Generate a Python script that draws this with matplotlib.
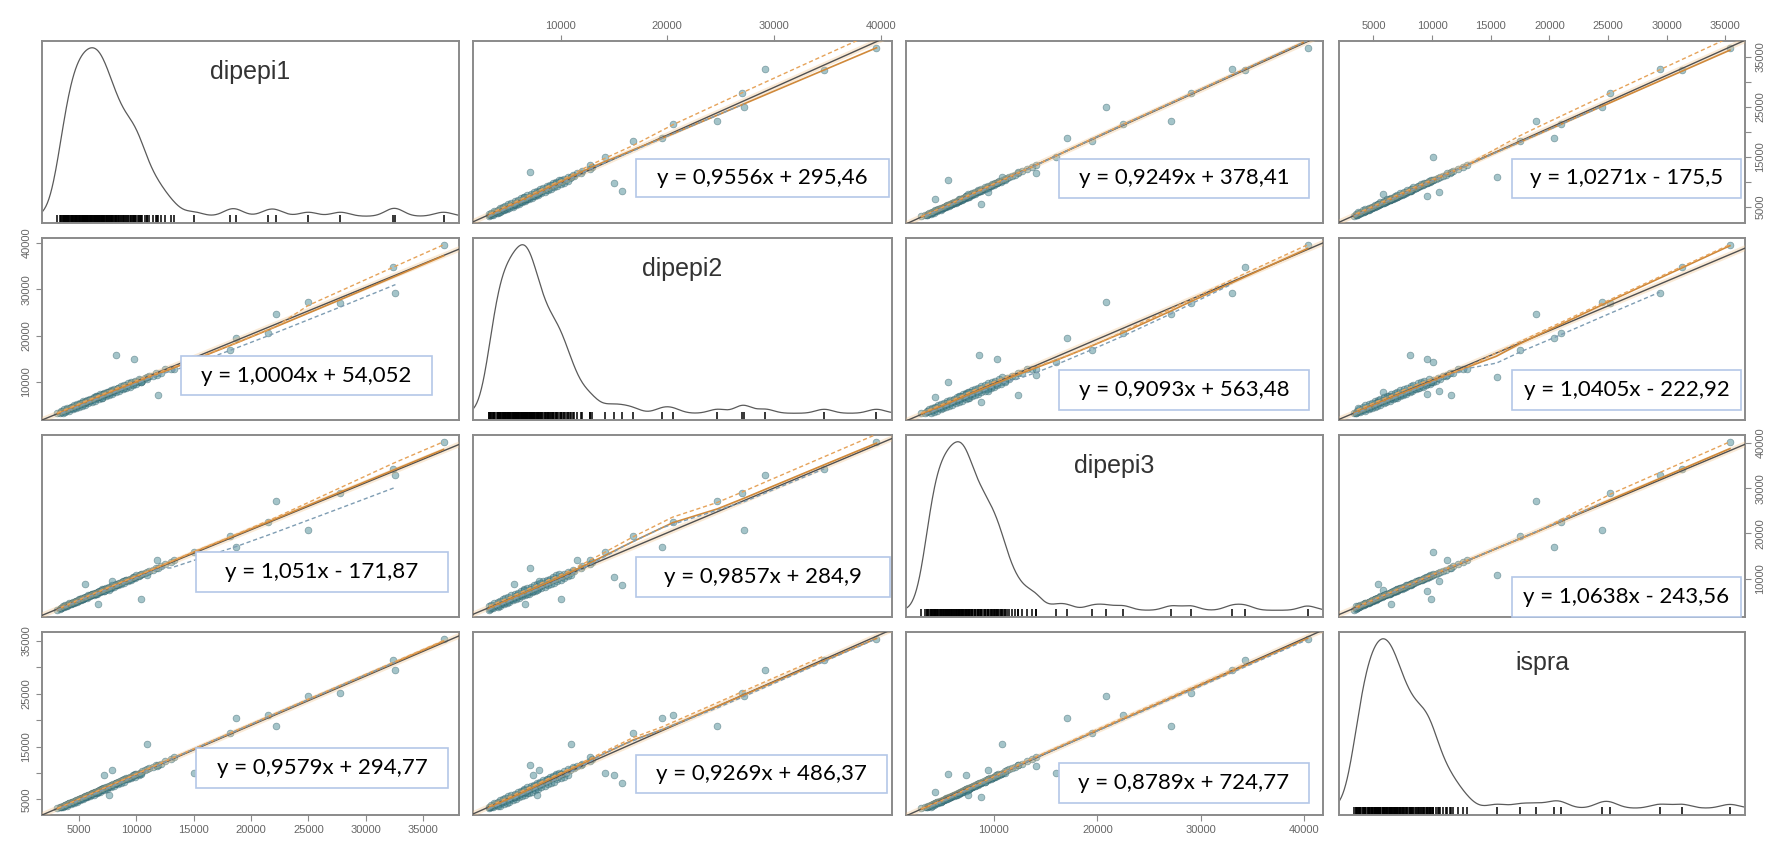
import numpy as np
import matplotlib
matplotlib.use("Agg")
import matplotlib.pyplot as plt
from matplotlib.patches import Rectangle

# scatterplot matrix: dipepi1, dipepi2, dipepi3, ispra

names = ["dipepi1", "dipepi2", "dipepi3", "ispra"]

dipepi1 = [
    3100, 3300, 3450, 3600, 3750, 3850, 3950, 4050, 4150, 4250,
    4350, 4400, 4500, 4600, 4650, 4750, 4850, 4900, 5000, 5100,
    5150, 5250, 5300, 5400, 5450, 5550, 5600, 5700, 5750, 5850,
    5900, 6000, 6050, 6150, 6200, 6300, 6350, 6450, 6500, 6600,
    6650, 6750, 6800, 6900, 7000, 7100, 7200, 7300, 7400, 7500,
    7650, 7800, 7950, 8100, 8250, 8400, 8550, 8700, 8900, 9100,
    9300, 9500, 9700, 9900, 10100, 10300, 10500, 10700, 10900, 11100,
    11400, 11700, 12100, 12500, 13000,
    3400, 3550, 3700, 3800, 3950, 4100, 4300, 4450, 4550, 4700,
    4800, 4950, 5050, 5200, 5350, 5500, 5650, 5800, 5950, 6100,
    6250, 6400, 6550, 6700, 6850, 7000, 7150, 7300, 7450, 7600,
    7750, 7900, 8050, 8200, 8350, 8500, 8650, 8800, 8950, 9100,
    9250, 9400, 9550, 9700, 9850, 10000, 10200, 10400, 6500, 7000,
    9800, 8200, 11900, 10350, 11750, 7900, 5500, 6600, 10900, 7200, 7600,
    36800, 32400, 32600, 27800, 25000, 22200, 21500, 18700, 18200, 15000, 13300]

dipepi2 = [
    3250, 3400, 3500, 3700, 3800, 4000, 3900, 4200, 4100, 4400,
    4300, 4600, 4450, 4750, 4650, 4900, 4800, 5100, 4950, 5300,
    5200, 5450, 5250, 5600, 5500, 5750, 5600, 5900, 5800, 6050,
    5950, 6200, 6100, 6350, 6250, 6500, 6400, 6650, 6550, 6800,
    6700, 6950, 6850, 7100, 7000, 7300, 7200, 7500, 7400, 7750,
    7650, 8000, 7900, 8300, 8200, 8650, 8500, 8950, 8800, 9300,
    9200, 9700, 9600, 10100, 10000, 10500, 10300, 10900, 10700, 11300,
    11200, 11900, 12000, 12800, 12900,
    3700, 3300, 4100, 3500, 4300, 3800, 4700, 4100, 5000, 4300,
    5200, 4600, 5500, 4800, 5800, 5100, 6100, 5400, 6400, 5700,
    6700, 6000, 7000, 6300, 7300, 6600, 7600, 6900, 7900, 7200,
    8200, 7500, 8500, 7800, 8800, 8100, 9100, 8400, 9400, 8700,
    9700, 9000, 10000, 9300, 10300, 9600, 10700, 9900, 6900, 6600,
    15000, 15800, 7100, 10000, 11500, 8000, 5600, 6700, 11000, 7400, 7800,
    39600, 34700, 29200, 27000, 27200, 24700, 20500, 19500, 16800, 14200, 12800]

dipepi3 = [
    3000, 3350, 3500, 3650, 3900, 3950, 4150, 4100, 4300, 4350,
    4500, 4550, 4700, 4800, 4900, 4950, 5100, 5150, 5250, 5400,
    5350, 5500, 5600, 5650, 5800, 5850, 5950, 6000, 6100, 6150,
    6300, 6350, 6400, 6500, 6600, 6650, 6700, 6800, 6900, 6950,
    7000, 7100, 7200, 7300, 7350, 7450, 7600, 7700, 7800, 7900,
    8000, 8200, 8350, 8500, 8700, 8850, 9000, 9200, 9400, 9600,
    9800, 10000, 10200, 10400, 10650, 10850, 11100, 11300, 11500, 11700,
    12000, 12300, 12700, 13200, 13700,
    3500, 3900, 3700, 4200, 4000, 4500, 4300, 4900, 4600, 5100,
    4900, 5400, 5200, 5700, 5500, 6000, 5800, 6300, 6100, 6600,
    6400, 6900, 6700, 7300, 7000, 7600, 7300, 7900, 7600, 8200,
    7900, 8500, 8200, 8800, 8500, 9100, 8800, 9400, 9100, 9700,
    9400, 10000, 9800, 10300, 10100, 10700, 10500, 11100, 6600, 7500,
    10300, 8600, 12300, 5600, 14100, 9400, 8800, 4300, 10800, 7300, 7500,
    40300, 34300, 33000, 29000, 20800, 27150, 22500, 17100, 19500, 16000, 14100]

ispra = [
    3350, 3500, 3600, 3800, 3900, 3950, 4100, 4200, 4250, 4300,
    4450, 4500, 4600, 4650, 4750, 4800, 4900, 4950, 5050, 5100,
    5200, 5250, 5300, 5400, 5500, 5550, 5600, 5700, 5800, 5850,
    5900, 6000, 6100, 6150, 6200, 6300, 6400, 6450, 6500, 6600,
    6700, 6750, 6850, 6900, 7000, 7100, 7200, 7250, 7400, 7450,
    7600, 7750, 7900, 8000, 8200, 8300, 8450, 8600, 8800, 9000,
    9150, 9350, 9550, 9750, 9900, 10100, 10300, 10500, 10700, 10900,
    11200, 11500, 11800, 12200, 12600,
    3600, 3500, 3800, 3900, 3700, 4300, 4100, 4600, 4300, 4900,
    4600, 5100, 4900, 5300, 5100, 5600, 5400, 5900, 5600, 6100,
    5900, 6400, 6200, 6700, 6500, 7000, 6800, 7300, 7000, 7500,
    7300, 7800, 7600, 8100, 7900, 8300, 8200, 8600, 8400, 8900,
    8800, 9200, 9100, 9500, 9300, 9800, 9700, 10100, 6300, 6800,
    9600, 8100, 11600, 9900, 11300, 10600, 5400, 6500, 15500, 9600, 5800,
    35400, 31300, 29400, 25200, 24500, 18900, 21000, 20400, 17500, 10100, 13000]

eq_labels = {
    (0, 1): "y = 0,9556x + 295,46", (0, 2): "y = 0,9249x + 378,41", (0, 3): "y = 1,0271x - 175,5",
    (1, 0): "y = 1,0004x + 54,052", (1, 2): "y = 0,9093x + 563,48", (1, 3): "y = 1,0405x - 222,92",
    (2, 0): "y = 1,051x - 171,87", (2, 1): "y = 0,9857x + 284,9", (2, 3): "y = 1,0638x - 243,56",
    (3, 0): "y = 0,9579x + 294,77", (3, 1): "y = 0,9269x + 486,37", (3, 2): "y = 0,8789x + 724,77",
}

data = [np.array(v, float) for v in (dipepi1, dipepi2, dipepi3, ispra)]

W, H = 1784, 847
COLS = [(42, 459), (473, 892), (906, 1323), (1339, 1745)]
ROWS = [(41, 223), (238, 420), (435, 617), (632, 815)]
# text boxes, pixel coords (x0, y0, x1, y1) from the top-left
BOX = {
    (0, 1): (636, 159, 889, 197), (0, 2): (1059, 159, 1309, 198), (0, 3): (1512, 159, 1741, 198),
    (1, 0): (181, 356, 432, 395), (1, 2): (1059, 370, 1309, 410), (1, 3): (1512, 370, 1741, 410),
    (2, 0): (196, 552, 448, 592), (2, 1): (636, 557, 890, 597), (2, 3): (1512, 577, 1741, 617),
    (3, 0): (196, 748, 448, 788), (3, 1): (636, 755, 887, 793), (3, 2): (1059, 763, 1309, 803),
}

GRAY = "#8a8a8a"
TICKC = "#666666"


def lowess(x, y, frac=0.5, iters=2):
    o = np.argsort(x)
    x, y = x[o], y[o]
    n = len(x)
    r = max(int(np.ceil(frac * n)), 3)
    fit = np.zeros(n)
    rob = np.ones(n)
    for _ in range(iters + 1):
        for i in range(n):
            d = np.abs(x - x[i])
            h = max(np.sort(d)[r - 1], 1e-9)
            w = (1 - np.clip(d / h, 0, 1) ** 3) ** 3 * rob
            sw = w.sum()
            xm = (w * x).sum() / sw
            ym = (w * y).sum() / sw
            sxx = (w * (x - xm) ** 2).sum()
            b = (w * (x - xm) * (y - ym)).sum() / sxx if sxx > 0 else 0.0
            fit[i] = ym + b * (x[i] - xm)
        res = y - fit
        s = np.median(np.abs(res)) + 1e-9
        u = np.clip(res / (6 * s), -1, 1)
        rob = (1 - u ** 2) ** 2
    return x, fit


def lims(v):
    lo, hi = v.min(), v.max()
    p = 0.04 * (hi - lo)
    return lo - p, hi + p


def kde(v, grid, bw):
    z = (grid[:, None] - v[None, :]) / bw
    return np.exp(-0.5 * z ** 2).sum(axis=1) / (len(v) * bw * np.sqrt(2 * np.pi))


plt.rcParams["font.family"] = ["Liberation Sans", "DejaVu Sans"]
fig = plt.figure(figsize=(W / 100, H / 100), dpi=100)

for i in range(4):
    for j in range(4):
        x0, x1 = COLS[j]
        y0, y1 = ROWS[i]
        ax = fig.add_axes([x0 / W, 1 - y1 / H, (x1 - x0) / W, (y1 - y0) / H])
        for s in ax.spines.values():
            s.set_color(GRAY)
            s.set_linewidth(1.4)
        ax.set_xticks([])
        ax.set_yticks([])
        xv = data[j]
        ax.set_xlim(*lims(xv))
        if i == j:
            g = np.linspace(xv.min() - 3000, xv.max() + 3000, 600)
            dens = kde(xv, g, 800)
            ax.plot(g, dens, color="#5a5a5a", lw=0.9)
            top = dens.max()
            ax.set_ylim(-0.04 * top, top * 1.04)
            ax.vlines(xv, 0, 0.045, transform=ax.get_xaxis_transform(), color="black", lw=1.1)
            ax.text(0.5, 0.83, names[i], transform=ax.transAxes, ha="center", va="center",
                    fontsize=18, color="#333333")
        else:
            yv = data[i]
            ax.set_ylim(*lims(yv))
            ax.scatter(xv, yv, s=24, facecolor="#4a8a95", edgecolor="#2d5a62", lw=0.5, alpha=0.5, zorder=2)
            xl = np.array(ax.get_xlim())
            b, a = np.polyfit(xv, yv, 1)
            ax.plot(xl, a + b * xl, color="#f2c38a", lw=4, alpha=0.35, zorder=3)
            ax.plot(xl, a + b * xl, color="#505050", lw=1.0, zorder=4)
            sx, sf = lowess(xv, yv)
            ax.plot(sx, sf, color="#d0893a", lw=1.2, zorder=4)
            res = yv - np.interp(xv, sx, sf)
            pos = res > 0
            ux, uf = lowess(xv[pos], res[pos] ** 2)
            lx, lf = lowess(xv[~pos], res[~pos] ** 2)
            ax.plot(ux, np.interp(ux, sx, sf) + np.sqrt(np.clip(uf, 0, None)),
                    color="#e6a35a", lw=1.0, ls=(0, (3, 2)), zorder=4)
            ax.plot(lx, np.interp(lx, sx, sf) - np.sqrt(np.clip(lf, 0, None)),
                    color="#7f9db3", lw=1.0, ls=(0, (3, 2)), zorder=4)

        # outer axes, alternating like R pairs()
        step5 = [5000, 10000, 15000, 20000, 25000, 30000, 35000]
        step10 = [10000, 20000, 30000, 40000]
        kw = dict(colors=GRAY, labelcolor=TICKC, labelsize=8, length=4, width=0.8)
        if i == 0 and j in (1, 3):
            t = step10 if j == 1 else step5
            ax.set_xticks(t)
            ax.set_xticklabels([str(v) for v in t])
            ax.xaxis.set_ticks_position("top")
            ax.tick_params(axis="x", **kw)
        if i == 3 and j in (0, 2):
            t = step5 if j == 0 else step10
            ax.set_xticks(t)
            ax.set_xticklabels([str(v) for v in t])
            ax.tick_params(axis="x", **kw)
        if j == 0 and i in (1, 3):
            t = step10 if i == 1 else step5
            ax.set_yticks(t)
            ax.set_yticklabels([str(v) if (i == 1 or k % 2 == 0) else "" for k, v in enumerate(t)],
                               rotation=90, va="center")
            ax.tick_params(axis="y", **kw)
        if j == 3 and i in (0, 2):
            t = step5 if i == 0 else step10
            ax.set_yticks(t)
            ax.set_yticklabels([str(v) if (i == 2 or k % 2 == 0) else "" for k, v in enumerate(t)],
                               rotation=90, va="center")
            ax.yaxis.set_ticks_position("right")
            ax.tick_params(axis="y", **kw)

for key, (bx0, by0, bx1, by1) in BOX.items():
    fig.add_artist(Rectangle((bx0 / W, 1 - by1 / H), (bx1 - bx0) / W, (by1 - by0) / H,
                             transform=fig.transFigure, facecolor="white", edgecolor="#b4c7e7",
                             lw=1.2, zorder=5))
    fig.text((bx0 + bx1) / 2 / W, 1 - (by0 + by1) / 2 / H, eq_labels[key], ha="center", va="center",
             fontsize=16, family=["Lato", "DejaVu Sans"], color="black", zorder=6)

fig.savefig("out.png", dpi=100, facecolor="white")
